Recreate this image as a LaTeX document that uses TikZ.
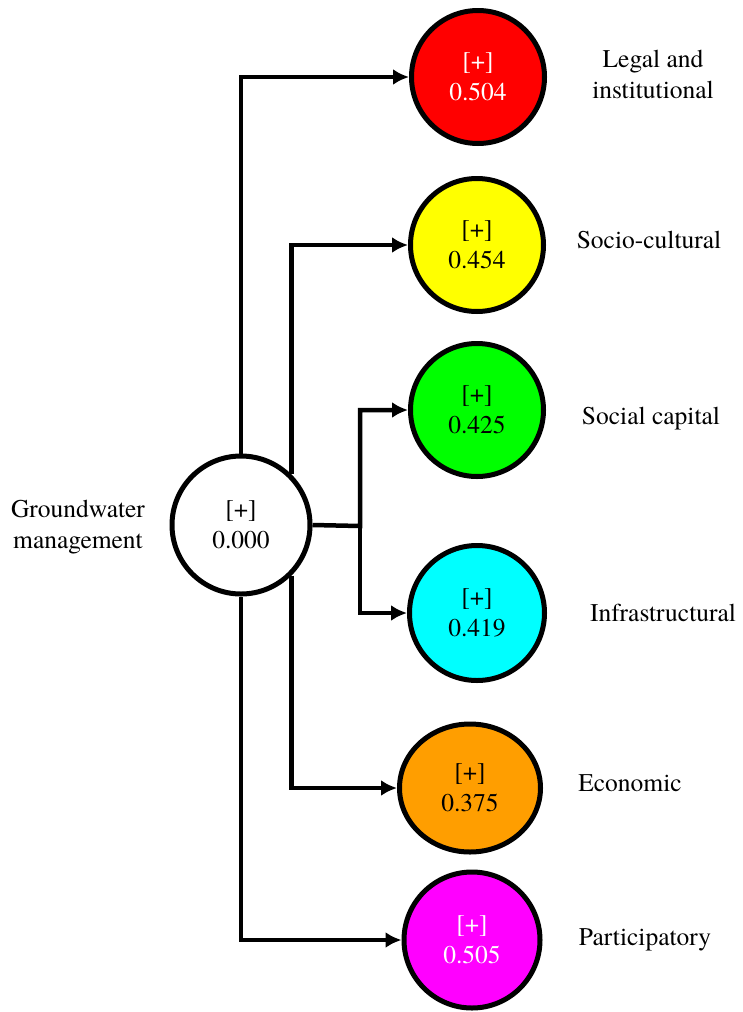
\documentclass[tikz,border=0pt]{standalone}
\usepackage{fontspec}
\setmainfont{texgyretermes}[Extension=.otf,UprightFont=*-regular]
\usetikzlibrary{shapes.geometric,arrows.meta}
\definecolor{rd}{HTML}{FF0000}
\definecolor{yllw}{HTML}{FFFF00}
\definecolor{grn}{HTML}{00FF00}
\definecolor{cyn}{HTML}{00FFFF}
\definecolor{orng}{HTML}{FF9E00}
\definecolor{mgnt}{HTML}{FF00FF}
\begin{document}
\begin{tikzpicture}[x=1pt,y=-1pt,
    every node/.style={font=\rmfamily\fontsize{25.5}{31}\selectfont},
    factor/.style={circle,draw,line width=5pt,minimum size=133pt,inner sep=0pt,align=center},
    link/.style={line width=4.5pt,-{Latex[length=16pt,width=16pt]}}]
\useasboundingbox (0,0) rectangle (742,1012);
\node [factor,fill=white,minimum size=138pt] (gw) at (241,525) {[+]\\0.000};
\node [align=center] (gwlabel) at (78,527) {Groundwater\\management};
\node [factor,fill=rd,text=white] (legal) at (478,77) {[+]\\0.504};
\node [factor,fill=yllw] (socio) at (477,245) {[+]\\0.454};
\node [factor,fill=grn] (social) at (477,410) {[+]\\0.425};
\node [factor,fill=cyn,minimum size=135pt] (infra) at (477,613) {[+]\\0.419};
\node [factor,ellipse,fill=orng,minimum width=141pt,minimum height=128pt] (econ) at (470,788) {[+]\\0.375};
\node [factor,fill=mgnt,text=white,minimum size=136pt] (part) at (472,940) {[+]\\0.505};
\node [align=center] (legallabel) at (653,74) {Legal and\\institutional};
\node (sociolabel) at (649,240) {Socio-cultural};
\node (sociallabel) at (651,419) {Social capital};
\node (infralabel) at (663,613) {Infrastructural};
\node (econlabel) at (630,783) {Economic};
\node (partlabel) at (645,940) {Participatory};
\coordinate (split) at (360,526);
\draw [link] (gw.north) |- (legal.west);
\draw [link] (gw.45) |- (socio.west);
\draw [link] (gw.east) -- (split) |- (social.west);
\draw [link] (split) |- (infra.west);
\draw [link] (gw.-45) |- (econ.west);
\draw [link] (gw.south) |- (part.west);
\end{tikzpicture}
\end{document}
